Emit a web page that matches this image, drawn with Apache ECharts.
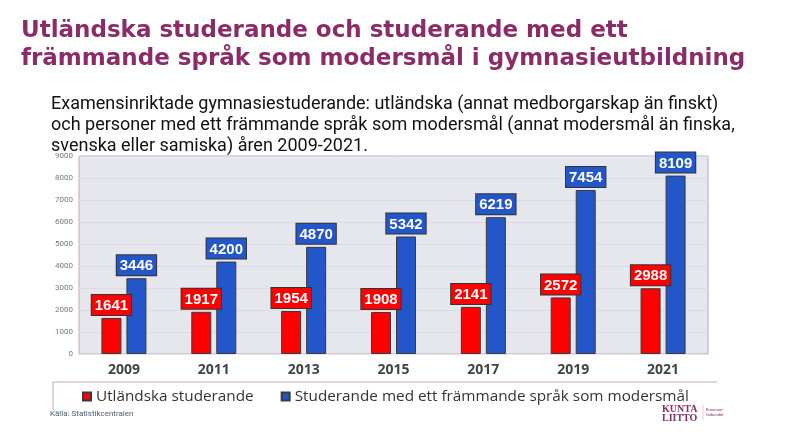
<!DOCTYPE html>
<html><head><meta charset="utf-8">
<script src="https://cdn.jsdelivr.net/npm/echarts@6/dist/echarts.min.js"></script>
<style>html,body{margin:0;padding:0;background:#fff}#c{width:790px;height:444px}</style>
</head><body><div id="c"></div>
<script>
const years = ['2009','2011','2013','2015','2017','2019','2021'];
const foreignStudents = [1641,1917,1954,1908,2141,2572,2988];
const foreignLanguage = [3446,4200,4870,5342,6219,7454,8109];
const seriesNames = ['Utländska studerande','Studerande med ett främmande språk som modersmål'];
const titleText = 'Utländska studerande och studerande med ett\nfrämmande språk som modersmål i gymnasieutbildning';
const subtitleText = 'Examensinriktade gymnasiestuderande: utländska (annat medborgarskap än finskt)\noch personer med ett främmande språk som modersmål (annat modersmål än finska,\nsvenska eller samiska) åren 2009-2021.';
const sourceText = 'Källa: Statistikcentralen';

const chart = echarts.init(document.getElementById('c'));
const lbl = (bg) => ({
  show: true, position: 'top', distance: 3,
  color: '#fff', fontWeight: 'bold', fontSize: 15, fontFamily: 'Liberation Sans, Arial',
  backgroundColor: bg, borderColor: '#333', borderWidth: 1, padding: [3, 3, 1, 3], lineHeight: 16
});
chart.setOption({
  animation: false,
  title: [
    { text: titleText, left: 16, top: 12,
      textStyle: { fontFamily: 'DejaVu Sans', fontWeight: 'bold', fontSize: 23, lineHeight: 28, color: '#8b2b67' } },
    { text: subtitleText, left: 46, top: 89,
      textStyle: { fontFamily: 'Roboto', fontWeight: 'normal', fontSize: 18, lineHeight: 21, color: '#111' } }
  ],
  grid: { left: 79, right: 82, top: 156, bottom: 90, show: true, backgroundColor: '#e5e7ec', borderColor: '#c7a5bb', borderWidth: 1 },
  legend: {
    left: 77, top: 384, itemWidth: 8, itemHeight: 8, itemGap: 27,
    textStyle: { fontFamily: 'Open Sans', fontSize: 15.3, color: '#333' },
    data: seriesNames.map(n => ({ name: n, icon: 'rect' }))
  },
  xAxis: {
    type: 'category', data: years,
    axisLine: { show: true, lineStyle: { color: '#e5e7ec', width: 1 } },
    axisTick: { show: false },
    axisLabel: { fontFamily: 'Open Sans', fontWeight: 'bold', fontSize: 14, color: '#444', margin: 9 }
  },
  yAxis: {
    type: 'value', min: 0, max: 9000, interval: 1000,
    axisLabel: { fontSize: 8, color: '#777', margin: 6, fontFamily: 'Roboto', formatter: v => String(v) },
    splitLine: { lineStyle: { color: '#d9dbe1', width: 1 } },
    axisLine: { show: false }, axisTick: { show: false }
  },
  series: [
    { name: seriesNames[0], type: 'bar', data: foreignStudents, barWidth: 20, barGap: '25%',
      itemStyle: { color: '#ff0000', borderColor: '#3a3a3a', borderWidth: 1 }, label: lbl('#ff0000') },
    { name: seriesNames[1], type: 'bar', data: foreignLanguage, barWidth: 20,
      itemStyle: { color: '#2356c8', borderColor: '#3a3a3a', borderWidth: 1 }, label: lbl('#2356c8') }
  ],
  graphic: [
    { type: 'polyline', shape: { points: [[53, 410], [53, 382], [717, 382]] }, style: { stroke: '#c7a5bb', lineWidth: 1, fill: null } },
    { type: 'text', left: 50, top: 410, style: { text: sourceText, fontSize: 8, fill: '#4d5d73', fontFamily: 'Roboto' } },
    { type: 'text', left: 662, top: 404, style: { text: 'KUNTA\nLIITTO', fontSize: 10, lineHeight: 9, fontWeight: 'bold', fill: '#8b2b67', fontFamily: 'Liberation Serif' } },
    { type: 'line', shape: { x1: 703, y1: 405, x2: 703, y2: 420 }, style: { stroke: '#c7a5bb', lineWidth: 0.6 } },
    { type: 'text', left: 706, top: 407, style: { text: 'Kommun-\nförbundet', fontSize: 4, lineHeight: 5, fill: '#8b2b67', fontFamily: 'Roboto' } }
  ]
});
</script></body></html>
